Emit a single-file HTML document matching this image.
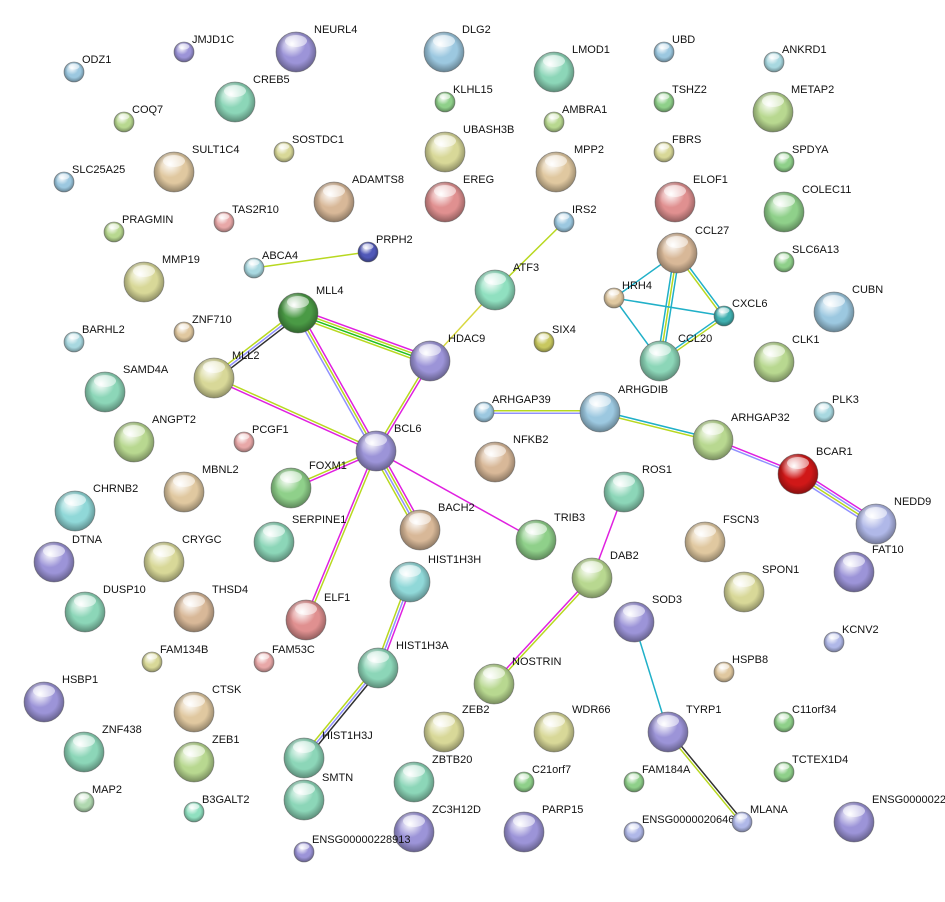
<!DOCTYPE html>
<html><head><meta charset="utf-8"><style>
html,body{margin:0;padding:0;background:#fff;}
svg text{font-family:"Liberation Sans",sans-serif;font-size:11px;fill:#111;}
</style></head><body>
<svg id="s" width="945" height="897" xmlns="http://www.w3.org/2000/svg"><defs id="d">
<radialGradient id="shade" cx="50%" cy="45%" r="55%"><stop offset="60%" stop-color="#000" stop-opacity="0"/><stop offset="100%" stop-color="#000" stop-opacity="0.35"/></radialGradient>
</defs><g id="e"></g><g id="n"></g></svg>
<script>
var C={g:'#8fd08a',dg:'#4a9a45',b:'#9cc8e0',p:'#9c94d8',t:'#8cd6b8',y:'#d8d898',lg:'#b8d890',br:'#d8b898',r:'#e09090',tan:'#e0c8a0',pk:'#e8a8a8',cy:'#90d8d8',ol:'#c8c860',nv:'#5058b8',red:'#d01818',lav:'#b0b8e8',sg:'#b0d8b0',tl:'#40b0b0',ce:'#a8d8e0',gr:'#90e0c0'};
var N=[
["NEURL4",296,52,20,'p'],["DLG2",444,52,20,'b'],["LMOD1",554,72,20,'t'],["CREB5",235,102,20,'t'],["METAP2",773,112,20,'lg'],
["SULT1C4",174,172,20,'tan'],["UBASH3B",445,152,20,'y'],["MPP2",556,172,20,'tan'],["ADAMTS8",334,202,20,'br'],["EREG",445,202,20,'r'],
["ELOF1",675,202,20,'r'],["COLEC11",784,212,20,'g'],["CCL27",677,253,20,'br'],["MMP19",144,282,20,'y'],["ATF3",495,290,20,'gr'],
["MLL4",298,313,20,'dg'],["CUBN",834,312,20,'b'],["HDAC9",430,361,20,'p'],["CCL20",660,361,20,'t'],["CLK1",774,362,20,'lg'],
["MLL2",214,378,20,'y'],["SAMD4A",105,392,20,'t'],["ARHGDIB",600,412,20,'b'],["BCL6",376,451,20,'p'],["ANGPT2",134,442,20,'lg'],
["ARHGAP32",713,440,20,'lg'],["NFKB2",495,462,20,'br'],["BCAR1",798,474,20,'red'],["MBNL2",184,492,20,'tan'],["FOXM1",291,488,20,'g'],
["ROS1",624,492,20,'t'],["CHRNB2",75,511,20,'cy'],["BACH2",420,530,20,'br'],["TRIB3",536,540,20,'g'],["SERPINE1",274,542,20,'t'],
["FSCN3",705,542,20,'tan'],["NEDD9",876,524,20,'lav'],["DTNA",54,562,20,'p'],["CRYGC",164,562,20,'y'],["FAT10",854,572,20,'p'],
["DAB2",592,578,20,'lg'],["HIST1H3H",410,582,20,'cy'],["SPON1",744,592,20,'y'],["DUSP10",85,612,20,'t'],["THSD4",194,612,20,'br'],
["ELF1",306,620,20,'r'],["SOD3",634,622,20,'p'],["HIST1H3A",378,668,20,'t'],["NOSTRIN",494,684,20,'lg'],["HSBP1",44,702,20,'p'],
["CTSK",194,712,20,'tan'],["ZEB2",444,732,20,'y'],["WDR66",554,732,20,'y'],["TYRP1",668,732,20,'p'],["ZNF438",84,752,20,'t'],
["ZEB1",194,762,20,'lg'],["HIST1H3J",304,758,20,'t'],["ZBTB20",414,782,20,'t'],["SMTN",304,800,20,'t'],["ZC3H12D",414,832,20,'p'],
["PARP15",524,832,20,'p'],["ENSG00000221",854,822,20,'p'],
["JMJD1C",184,52,10,'p'],["ODZ1",74,72,10,'b'],["UBD",664,52,10,'b'],["ANKRD1",774,62,10,'ce'],["KLHL15",445,102,10,'g'],
["TSHZ2",664,102,10,'g'],["COQ7",124,122,10,'lg'],["AMBRA1",554,122,10,'lg'],["SOSTDC1",284,152,10,'y'],["FBRS",664,152,10,'y'],
["SPDYA",784,162,10,'g'],["SLC25A25",64,182,10,'b'],["TAS2R10",224,222,10,'pk'],["IRS2",564,222,10,'b'],["PRAGMIN",114,232,10,'lg'],
["PRPH2",368,252,10,'nv'],["ABCA4",254,268,10,'ce'],["SLC6A13",784,262,10,'g'],["HRH4",614,298,10,'tan'],["CXCL6",724,316,10,'tl'],
["ZNF710",184,332,10,'tan'],["BARHL2",74,342,10,'ce'],["SIX4",544,342,10,'ol'],["ARHGAP39",484,412,10,'b'],["PLK3",824,412,10,'ce'],
["PCGF1",244,442,10,'pk'],["KCNV2",834,642,10,'lav'],["FAM134B",152,662,10,'y'],["FAM53C",264,662,10,'pk'],["HSPB8",724,672,10,'tan'],
["C11orf34",784,722,10,'g'],["C21orf7",524,782,10,'g'],["FAM184A",634,782,10,'g'],["TCTEX1D4",784,772,10,'g'],["MAP2",84,802,10,'sg'],
["B3GALT2",194,812,10,'gr'],["ENSG00000206468",634,832,10,'lav'],["MLANA",742,822,10,'lav'],["ENSG00000228913",304,852,10,'p']];
var P={};N.forEach(function(n){P[n[0]]=n;});
var Y='#b8d820',M='#e020e0',G='#20c020',K='#303030',B='#9090ff',Cy='#20b0c8',Yl='#d8d840';
var E=[["ABCA4","PRPH2",[Y]],["IRS2","ATF3",[Y]],["ATF3","HDAC9",[Yl]],["MLL4","HDAC9",[M,Y,G,Y]],["MLL4","MLL2",[K,B,Y]],
["MLL4","BCL6",[M,Y,B]],["MLL2","BCL6",[Y,M]],["HDAC9","BCL6",[M,Y]],["BCL6","FOXM1",[M,Y]],["BCL6","ELF1",[Y,M]],
["BCL6","BACH2",[M,Y,B,Y]],["BCL6","TRIB3",[M]],["CCL27","CCL20",[Cy,Y,Cy]],["CCL27","CXCL6",[Cy,Y]],["CCL27","HRH4",[Cy]],
["HRH4","CXCL6",[Cy]],["HRH4","CCL20",[Cy]],["CCL20","CXCL6",[Cy,Y]],["ARHGAP39","ARHGDIB",[Y,B]],["ARHGDIB","ARHGAP32",[Cy,Y]],
["ARHGAP32","BCAR1",[M,B]],["BCAR1","NEDD9",[M,B,Y,B]],["ROS1","DAB2",[M]],["DAB2","NOSTRIN",[Y,M]],["HIST1H3H","HIST1H3A",[M,B,Y]],
["HIST1H3A","HIST1H3J",[K,B,Y]],["SOD3","TYRP1",[Cy]],["TYRP1","MLANA",[K,Y]]];
var ns='http://www.w3.org/2000/svg';
function el(t,a,p){var e=document.createElementNS(ns,t);for(var k in a)e.setAttribute(k,a[k]);p.appendChild(e);return e;}
var d=document.getElementById('d'),eg=document.getElementById('e'),ng=document.getElementById('n');
for(var c in C){var g=el('radialGradient',{id:'g'+c,cx:'40%',cy:'30%',r:'75%'},d);
el('stop',{offset:'0%','stop-color':'#ffffff'},g);el('stop',{offset:'45%','stop-color':C[c]},g);el('stop',{offset:'100%','stop-color':C[c]},g);}
E.forEach(function(e){var a=P[e[0]],b=P[e[1]];var dx=b[1]-a[1],dy=b[2]-a[2],L=Math.hypot(dx,dy);var nx=-dy/L,ny=dx/L;var k=e[2].length;
e[2].forEach(function(col,i){var o=(i-(k-1)/2)*2.6;el('line',{x1:a[1]+nx*o,y1:a[2]+ny*o,x2:b[1]+nx*o,y2:b[2]+ny*o,stroke:col,'stroke-width':1.5},eg);});});
N.forEach(function(n){var x=n[1],y=n[2],r=n[3];
el('circle',{cx:x,cy:y,r:r,fill:'url(#g'+n[4]+')'},ng);
el('circle',{cx:x,cy:y,r:r,fill:'url(#shade)',stroke:'#555','stroke-width':0.8,'stroke-opacity':0.6},ng);
el('ellipse',{cx:x,cy:y-r*0.55,rx:r*0.55,ry:r*0.3,fill:'#fff','fill-opacity':0.55},ng);
var t=el('text',{x:x+r-2,y:y-r+1},ng);t.textContent=n[0];});
</script>
</body></html>
